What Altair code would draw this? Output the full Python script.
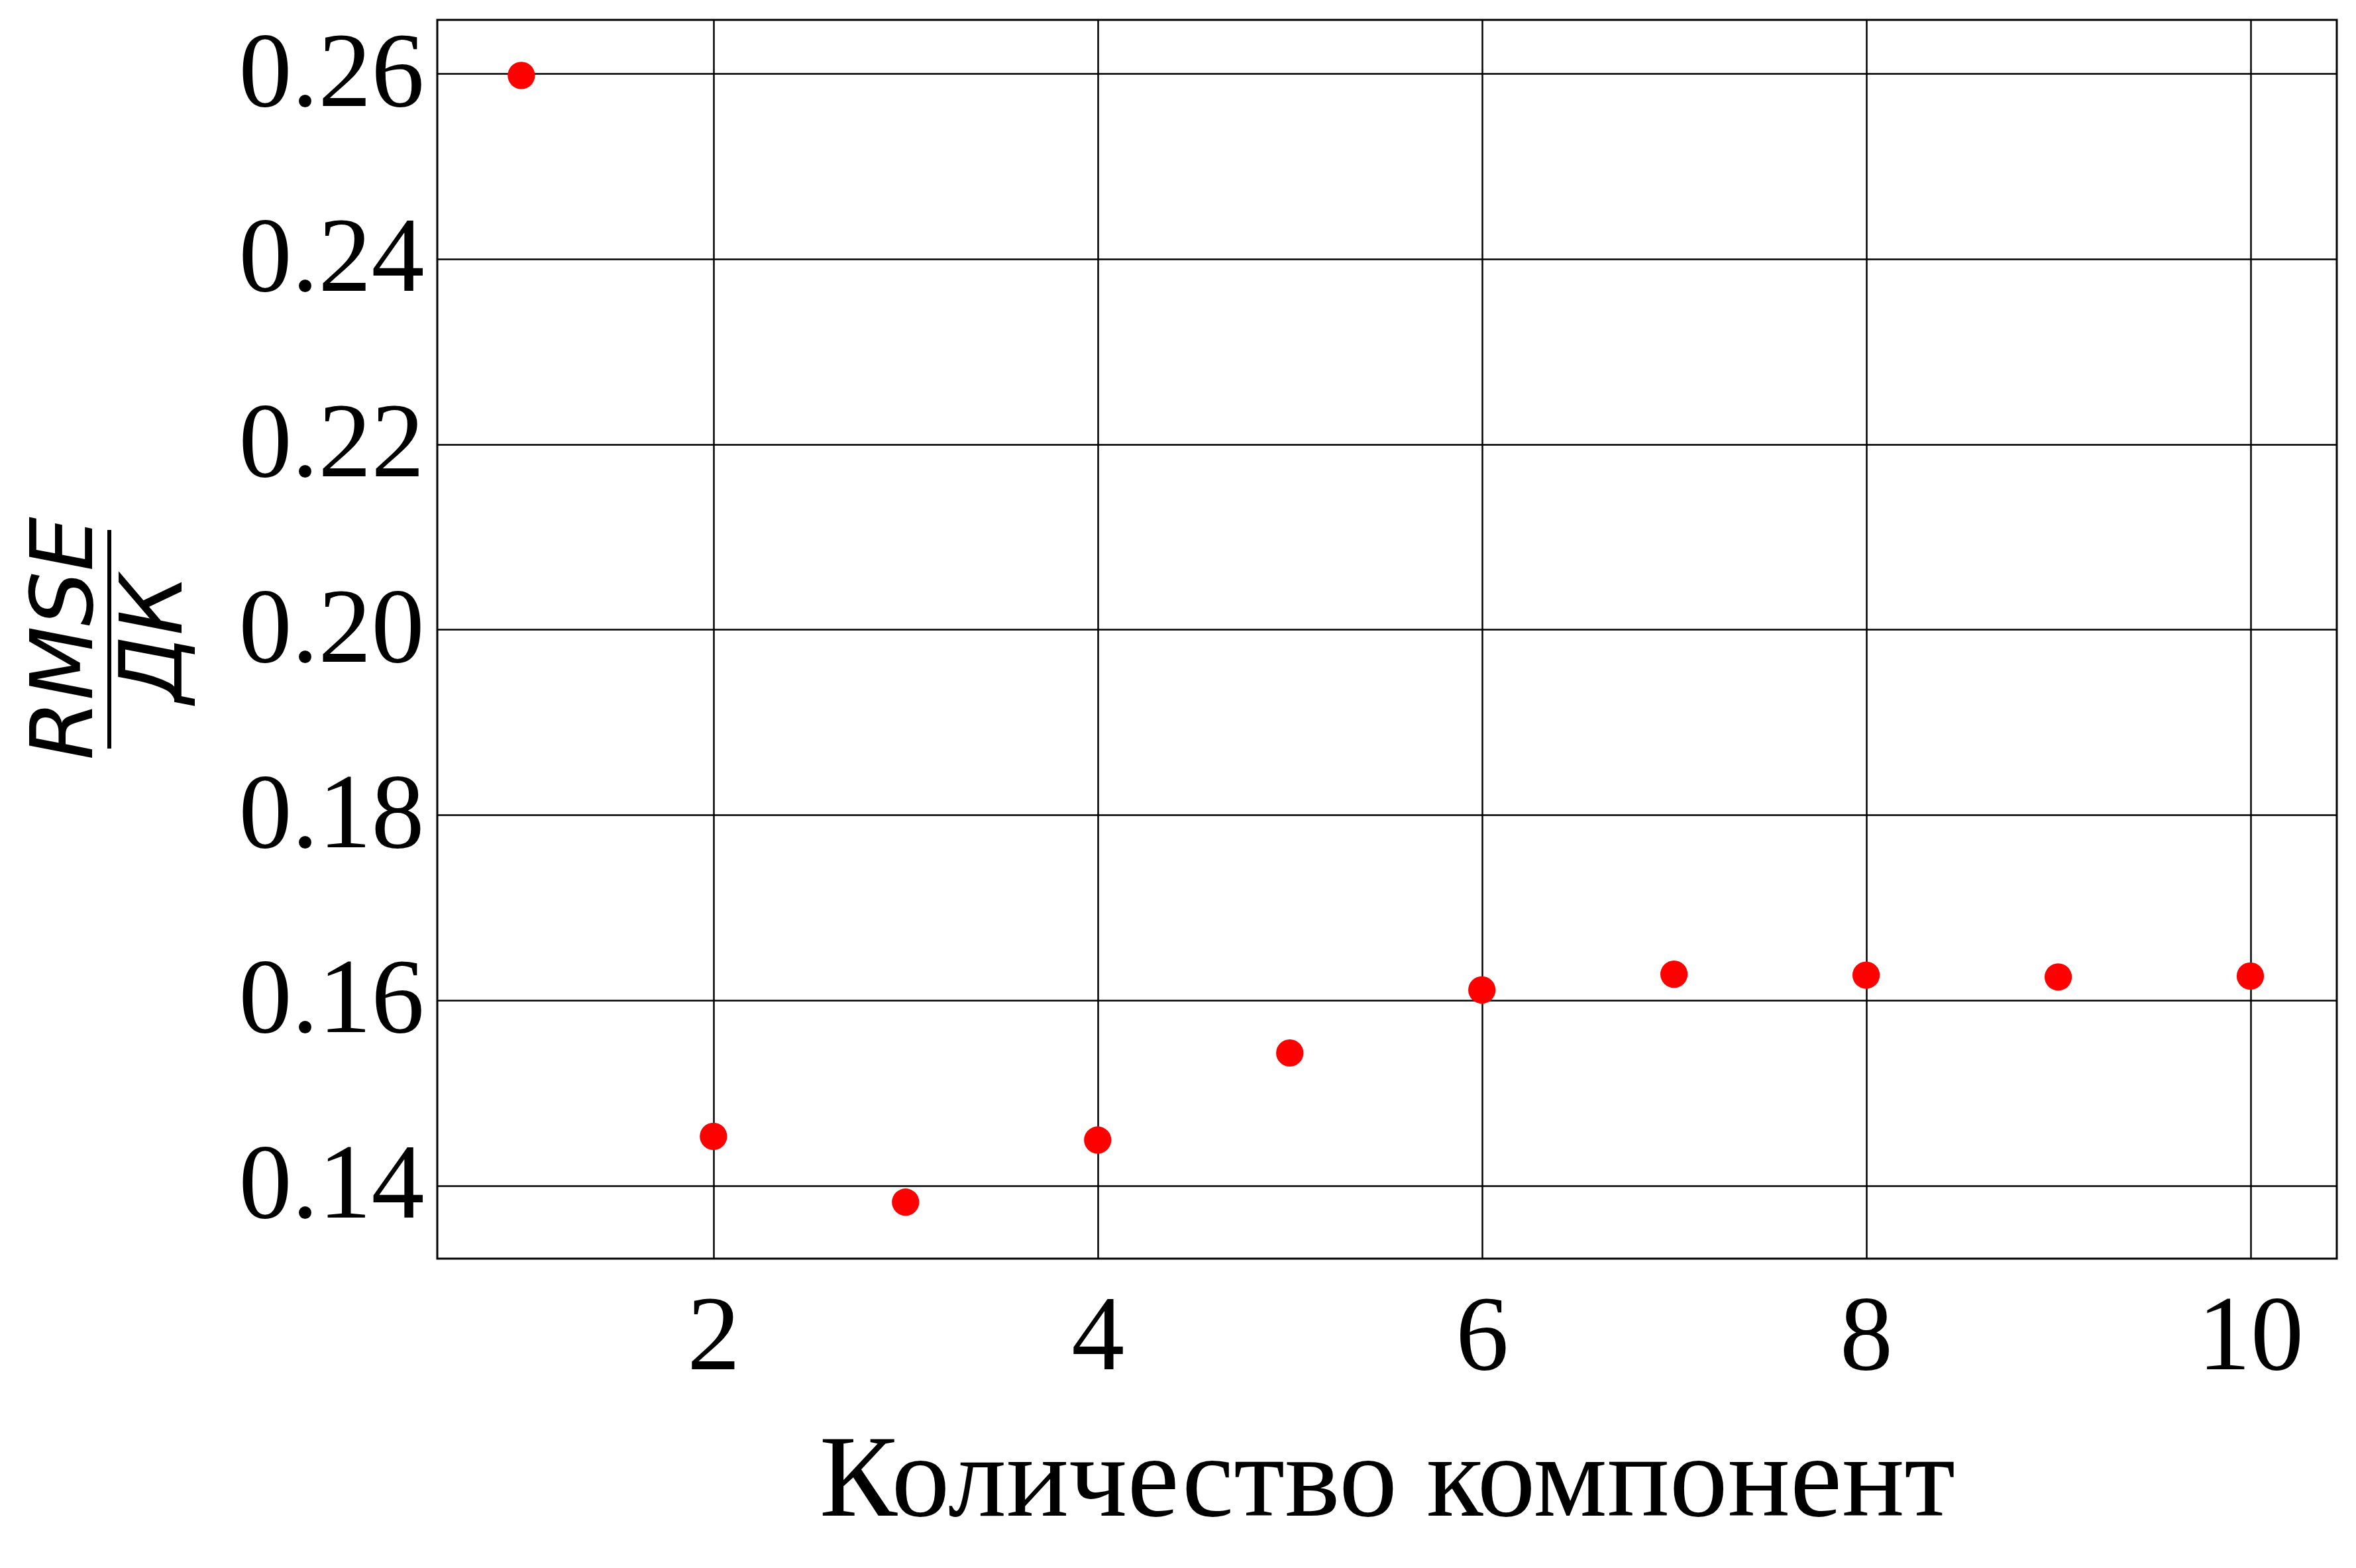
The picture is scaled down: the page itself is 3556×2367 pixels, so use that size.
import altair as alt
import pandas as pd

components = [1, 2, 3, 4, 5, 6, 7, 8, 9, 10]
rmse_ratio = [0.2598, 0.1453, 0.1382, 0.1449, 0.1543, 0.1611, 0.1628, 0.1627, 0.1625, 0.1626]

df = pd.DataFrame({"n": components, "rmse": rmse_ratio})

W, H = 2867, 1870

points = alt.Chart(df).mark_circle(color="#ff0000", opacity=1, size=1700).encode(
    alt.X("n:Q", scale=alt.Scale(domain=[0.5625, 10.45], nice=False, zero=False),
          axis=alt.Axis(values=[2, 4, 6, 8, 10], title="Количество компонент",
                        titlePadding=50, labelPadding=40, format="d", titleFontSize=176)),
    alt.Y("rmse:Q", scale=alt.Scale(domain=[0.1321, 0.2658], nice=False, zero=False),
          axis=alt.Axis(values=[0.14, 0.16, 0.18, 0.20, 0.22, 0.24, 0.26], format=".2f",
                        title=None, labelPadding=20, labelLimit=0)),
)

# y title as a fraction RMSE / ДК
lbl = pd.DataFrame({"t": ["RMSE", "ДК"], "xo": [-560, -425]})
ytitle = alt.Chart(lbl).mark_text(
    angle=270, font="DejaVu Sans", fontStyle="italic", fontSize=130, baseline="middle"
).encode(x=alt.X("xo:Q", scale=None), y=alt.value(934), text="t:N")
bar = alt.Chart(pd.DataFrame({"a": [0]})).mark_rule(color="black", strokeWidth=6).encode(
    x=alt.value(-495), y=alt.value(770), y2=alt.value(1100))

chart = alt.layer(points, ytitle, bar).properties(
    width=W, height=H,
    autosize=alt.AutoSizeParams(type="none"),
    padding={"left": 652, "top": 22, "right": 20, "bottom": 440},
).configure_axis(
    labelFont="Liberation Serif", titleFont="Liberation Serif",
    labelFontSize=160, titleFontSize=160, labelColor="black", titleColor="black",
    titleFontWeight="normal", grid=True, gridColor="black", gridWidth=2.5,
    gridOpacity=1, ticks=False, domain=False,
).configure_view(stroke="black", strokeWidth=3)

chart.save("out.html", embed_options={"renderer": "svg", "actions": False})
